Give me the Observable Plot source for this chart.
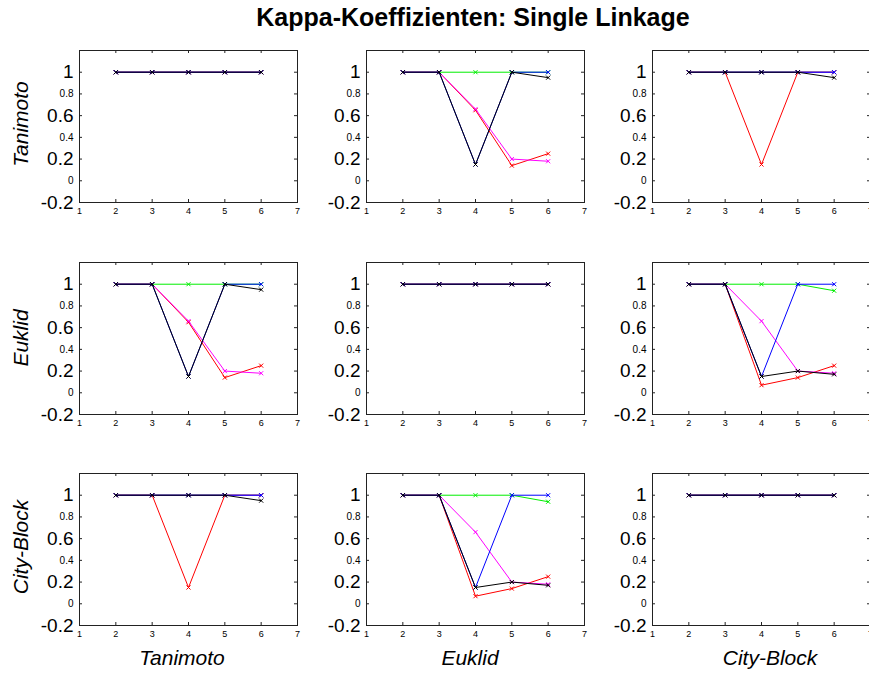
<!DOCTYPE html>
<html>
<head>
<meta charset="utf-8">
<script src="https://cdn.jsdelivr.net/npm/d3@7"></script>
<script src="https://cdn.jsdelivr.net/npm/@observablehq/plot@0.6"></script>
<style>
  body { margin: 0; background: #fff; font-family: "Liberation Sans", Arial, sans-serif; }
  #wrap { position: relative; width: 869px; height: 675px; overflow: hidden; background: #fff; }
  .p { position: absolute; }
  #labels { position: absolute; left: 0; top: 0; pointer-events: none; }
</style>
</head>
<body>
<div id="wrap"><svg id="labels" width="869" height="675"></svg></div>
<script>
// ---- data ----
const title = "Kappa-Koeffizienten: Single Linkage";
const measures = ["Tanimoto", "Euklid", "City-Block"];
const ks = [2, 3, 4, 5, 6];
const seriesNames = ["red", "green", "magenta", "blue", "black"];
const seriesColors = {red: "#ff0000", green: "#00ee00", magenta: "#ff00ff", blue: "#0000ff", black: "#000000"};
const xTickLabels = [1, 2, 3, 4, 5, 6, 7];
const yTicksBig = [-0.2, 0.2, 0.6, 1];
const yTicksSmall = [0, 0.4, 0.8];

// identical measures (diagonal)
const sameRed = [1, 1, 1, 1, 1];
const sameGreen = [1, 1, 1, 1, 1];
const sameMagenta = [1, 1, 1, 1, 1];
const sameBlue = [1, 1, 1, 1, 1];
const sameBlack = [1, 1, 1, 1, 1];
// Tanimoto vs Euklid
const teRed = [1, 1, 0.65, 0.14, 0.25];
const teGreen = [1, 1, 1, 1, 1];
const teMagenta = [1, 1, 0.66, 0.2, 0.18];
const teBlue = [1, 1, 0.15, 1, 1];
const teBlack = [1, 1, 0.15, 1, 0.95];
// Tanimoto vs City-Block
const tcRed = [1, 1, 0.15, 1, 1];
const tcGreen = [1, 1, 1, 1, 1];
const tcMagenta = [1, 1, 1, 1, 1];
const tcBlue = [1, 1, 1, 1, 1];
const tcBlack = [1, 1, 1, 1, 0.95];
// Euklid vs City-Block
const ecRed = [1, 1, 0.07, 0.14, 0.25];
const ecGreen = [1, 1, 1, 1, 0.94];
const ecMagenta = [1, 1, 0.66, 0.2, 0.18];
const ecBlue = [1, 1, 0.15, 1, 1];
const ecBlack = [1, 1, 0.15, 0.2, 0.17];

function table(red, green, magenta, blue, black) {
  const src = {red, green, magenta, blue, black};
  return seriesNames.map(s => ks.map((k, i) => ({s, k, v: src[s][i]})));
}
const SAME = table(sameRed, sameGreen, sameMagenta, sameBlue, sameBlack);
const TE = table(teRed, teGreen, teMagenta, teBlue, teBlack);
const TC = table(tcRed, tcGreen, tcMagenta, tcBlue, tcBlack);
const EC = table(ecRed, ecGreen, ecMagenta, ecBlue, ecBlack);
const grid = [[SAME, TE, TC], [TE, SAME, EC], [TC, EC, SAME]];

// ---- layout ----
const boxLeft = [79, 366, 652];
const boxTop = [50, 262, 473];
const innerW = 218, innerH = 152;
const mL = 60, mR = 6, mT = 6, mB = 22;
const font = "Liberation Sans, Arial, Helvetica, sans-serif";
const fmt = d => String(d);

function panel(groups) {
  const marks = [
    Plot.frame({stroke: "#222", strokeWidth: 1}),
    Plot.tickX(ks, {x: d => d, insetTop: innerH - 3, stroke: "#222"}),
    Plot.tickX(ks, {x: d => d, insetBottom: innerH - 3, stroke: "#222"}),
    Plot.tickY(yTicksBig.concat(yTicksSmall), {y: d => d, insetLeft: innerW - 3, stroke: "#222"}),
    Plot.tickY(yTicksBig.concat(yTicksSmall), {y: d => d, insetRight: innerW - 3, stroke: "#222"}),
    Plot.axisX({ticks: xTickLabels, tickSize: 0, tickPadding: 5, fontSize: 9, tickFormat: fmt, label: null}),
    Plot.axisY({ticks: yTicksBig, tickSize: 0, tickPadding: 6, fontSize: 19, tickFormat: fmt, label: null}),
    Plot.axisY({ticks: yTicksSmall, tickSize: 0, tickPadding: 6, fontSize: 10, tickFormat: fmt, label: null})
  ];
  for (const g of groups) {
    const c = seriesColors[g[0].s];
    marks.push(Plot.line(g, {x: "k", y: "v", stroke: c, strokeWidth: 1}));
    marks.push(Plot.dot(g, {x: "k", y: "v", stroke: c, symbol: "times", r: 2, strokeWidth: 1}));
  }
  return Plot.plot({
    width: innerW + mL + mR,
    height: innerH + mT + mB,
    marginLeft: mL, marginRight: mR, marginTop: mT, marginBottom: mB,
    x: {domain: [1, 7]},
    y: {domain: [-0.2, 1.2]},
    style: {background: "transparent", fontFamily: font, color: "#000", overflow: "visible"},
    marks
  });
}

const wrap = document.getElementById("wrap");
for (let r = 0; r < 3; r++) {
  for (let c = 0; c < 3; c++) {
    const el = panel(grid[r][c]);
    el.classList.add("p");
    el.style.left = (boxLeft[c] - mL) + "px";
    el.style.top = (boxTop[r] - mT) + "px";
    el.style.maxWidth = "none";
    wrap.insertBefore(el, document.getElementById("labels"));
  }
}

// ---- titles ----
const svg = d3.select("#labels");
svg.append("text").attr("x", 473).attr("y", 26).attr("text-anchor", "middle")
  .attr("font-family", font).attr("font-weight", "bold").attr("font-size", 25).text(title);
const rowCenters = [124, 338, 547];
measures.forEach((m, i) => {
  svg.append("text").attr("transform", `translate(28,${rowCenters[i]}) rotate(-90)`)
    .attr("text-anchor", "middle").attr("font-family", font).attr("font-style", "italic")
    .attr("font-size", 21).text(m);
});
const colCenters = [182, 470, 770];
measures.forEach((m, i) => {
  svg.append("text").attr("x", colCenters[i]).attr("y", 665).attr("text-anchor", "middle")
    .attr("font-family", font).attr("font-style", "italic").attr("font-size", 21).text(m);
});
</script>
</body>
</html>
